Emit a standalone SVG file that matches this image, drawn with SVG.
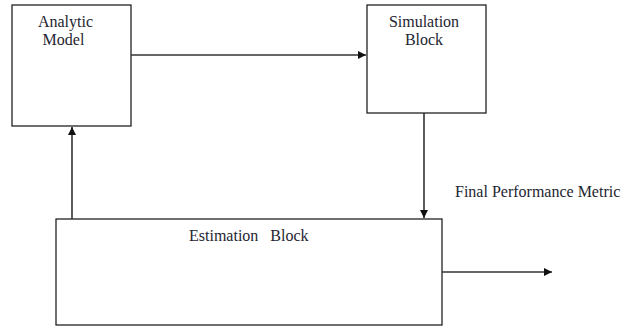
<svg xmlns="http://www.w3.org/2000/svg" width="633" height="326" viewBox="0 0 633 326">
<style>
.box{fill:#fff;stroke:#222;stroke-width:1.3}
.ln{fill:none;stroke:#333;stroke-width:1.6}
.t{font-family:'Liberation Serif','Times New Roman',serif;font-size:16px;fill:#1e2530}
</style>
<defs>
<marker id="ah" viewBox="0 0 10 10" refX="10" refY="5" markerWidth="8" markerHeight="8" markerUnits="userSpaceOnUse" orient="auto">
<path d="M0,0 L10,5 L0,10 z" fill="#111"/>
</marker>
</defs>
<rect width="633" height="326" fill="#fff"/>
<g id="analytic-model">
<rect class="box" x="12" y="5" width="119" height="121"/>
<text class="t" x="65.5" y="27" text-anchor="middle">Analytic</text>
<text class="t" x="63.5" y="45" text-anchor="middle">Model</text>
</g>
<g id="simulation-block">
<rect class="box" x="367" y="5" width="119" height="108"/>
<text class="t" x="424" y="27" text-anchor="middle">Simulation</text>
<text class="t" x="424" y="45" text-anchor="middle">Block</text>
</g>
<g id="estimation-block">
<rect class="box" x="56" y="219" width="386" height="106"/>
<text class="t" x="189" y="241" xml:space="preserve">Estimation   Block</text>
</g>
<g id="final-metric-label">
<text class="t" x="455" y="197">Final Performance Metric</text>
</g>
<g id="connectors">
<line class="ln" x1="131" y1="55" x2="366" y2="55" marker-end="url(#ah)"/>
<line class="ln" x1="424" y1="113" x2="424" y2="218" marker-end="url(#ah)"/>
<line class="ln" x1="72" y1="219" x2="72" y2="127" marker-end="url(#ah)"/>
<line class="ln" x1="442" y1="272" x2="552" y2="272" marker-end="url(#ah)"/>
</g>
</svg>
